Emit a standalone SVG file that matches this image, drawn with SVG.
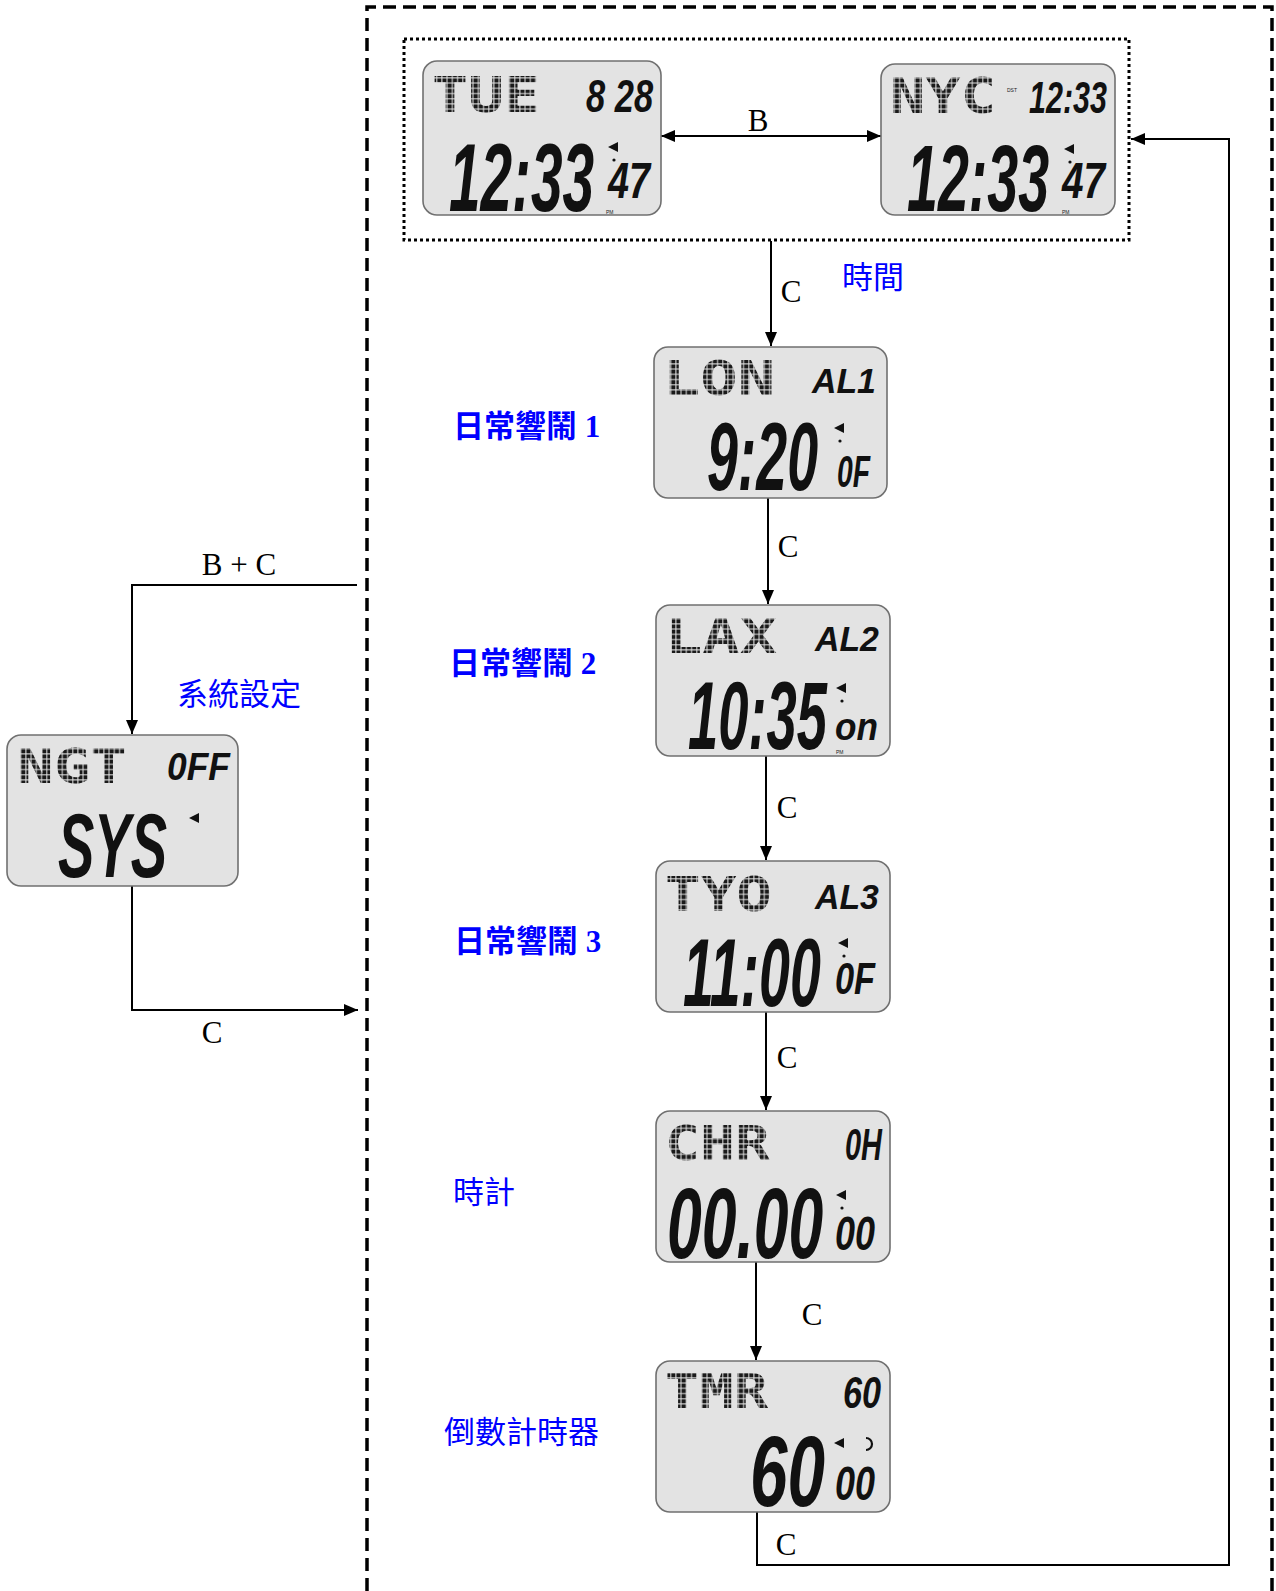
<svg xmlns="http://www.w3.org/2000/svg" width="1276" height="1591" viewBox="0 0 1276 1591">
<defs>
  <style>
    .lcd { fill: #e3e3e3; stroke: #707070; stroke-width: 1.6; }
    .dm { font-family: "DejaVu Sans Mono", "Liberation Mono", monospace; font-weight: bold; fill: url(#dots); }
    .seg { font-family: "Liberation Sans", "DejaVu Sans", sans-serif; font-weight: bold; font-style: italic; fill: #111; }
    .tiny { font-family: "Liberation Sans", sans-serif; font-size: 5px; fill: #222; }
    .lbl { font-family: "Liberation Serif", "DejaVu Serif", serif; font-size: 31px; fill: #000; text-anchor: middle; }
    .cjk { font-family: "Liberation Serif", "Noto Sans CJK TC", serif; font-size: 31px; fill: #0000ff; }
    .cjkb { font-weight: bold; }
    .edge { fill: none; stroke: #000; stroke-width: 2; }
    .bell { fill: #111; }
  </style>
  <pattern id="dots" width="5.2" height="5.2" patternUnits="userSpaceOnUse">
    <rect x="0.4" y="0.4" width="4.2" height="4.2" fill="#1a1a1a"/>
  </pattern>
  <marker id="ah" viewBox="0 0 14 12" refX="14" refY="6" markerWidth="14" markerHeight="12" markerUnits="userSpaceOnUse" orient="auto-start-reverse">
    <path d="M0,0 L14,6 L0,12 Z" fill="#000"/>
  </marker>
</defs>

<!-- frames -->
<path d="M367,1591 V7 H1272 V1591" fill="none" stroke="#000" stroke-width="3.5" stroke-dasharray="13 7"/>
<rect x="404" y="39" width="725" height="201" fill="none" stroke="#000" stroke-width="3" stroke-dasharray="3 3"/>

<!-- connectors -->
<g id="connectors">
  <line class="edge" x1="661" y1="136" x2="881" y2="136" marker-start="url(#ah)" marker-end="url(#ah)"/>
  <line class="edge" x1="771" y1="241" x2="771" y2="346" marker-end="url(#ah)"/>
  <line class="edge" x1="768" y1="498" x2="768" y2="604" marker-end="url(#ah)"/>
  <line class="edge" x1="766" y1="756" x2="766" y2="860" marker-end="url(#ah)"/>
  <line class="edge" x1="766" y1="1011" x2="766" y2="1110" marker-end="url(#ah)"/>
  <line class="edge" x1="756" y1="1262" x2="756" y2="1360" marker-end="url(#ah)"/>
  <polyline class="edge" points="757,1512 757,1565 1229,1565 1229,139 1131,139" marker-end="url(#ah)"/>
  <polyline class="edge" points="357,585 132,585 132,734" marker-end="url(#ah)"/>
  <polyline class="edge" points="132,886 132,1010 358,1010" marker-end="url(#ah)"/>
  <text class="lbl" x="758" y="131">B</text>
  <text class="lbl" x="791" y="302">C</text>
  <text class="lbl" x="788" y="557">C</text>
  <text class="lbl" x="787" y="818">C</text>
  <text class="lbl" x="787" y="1068">C</text>
  <text class="lbl" x="812" y="1325">C</text>
  <text class="lbl" x="786" y="1555" font-size="29">C</text>
  <text class="lbl" x="239" y="575">B + C</text>
  <text class="lbl" x="212" y="1043">C</text>
</g>

<!-- labels -->
<text class="cjk" x="842" y="288">時間</text>
<text class="cjk cjkb" x="453" y="437">日常響鬧 1</text>
<text class="cjk cjkb" x="449" y="674">日常響鬧 2</text>
<text class="cjk cjkb" x="454" y="952">日常響鬧 3</text>
<text class="cjk" x="453" y="1203" font-size="32">時計</text>
<text class="cjk" x="444" y="1443" font-size="32.5">倒數計時器</text>
<text class="cjk" x="177" y="705" font-size="32">系統設定</text>

<!-- nodes -->
<g id="node-tue">
  <rect class="lcd" x="423" y="61" width="238" height="154" rx="14"/>
  <text class="dm" x="432" y="112" font-size="50" textLength="108" lengthAdjust="spacingAndGlyphs">TUE</text>
  <text class="seg" font-size="46" transform="translate(586,112) scale(0.75,1)">8 28</text>
  <text class="seg" font-size="96" transform="translate(449,211) scale(0.591,1)">12:33</text>
  <path class="bell" d="M608,147 L618,142 L618,152 Z"/>
  <circle cx="614" cy="160" r="1.6" fill="#111"/>
  <text class="seg" font-size="44" transform="translate(608,198) scale(0.86,1.12)">47</text>
  <text class="tiny" x="606" y="214">PM</text>
</g>

<g id="node-nyc">
  <rect class="lcd" x="881" y="64" width="234" height="151" rx="14"/>
  <text class="dm" x="890" y="113" font-size="50" textLength="106" lengthAdjust="spacingAndGlyphs">NYC</text>
  <text class="tiny" x="1007" y="92">DST</text>
  <text class="seg" font-size="44" transform="translate(1029,113) scale(0.693,1)">12:33</text>
  <text class="seg" font-size="95" transform="translate(907,211) scale(0.585,1)">12:33</text>
  <path class="bell" d="M1064,149 L1074,144 L1074,154 Z"/>
  <circle cx="1070" cy="162" r="1.6" fill="#111"/>
  <text class="seg" font-size="44" transform="translate(1062,198) scale(0.88,1.12)">47</text>
  <text class="tiny" x="1062" y="214">PM</text>
</g>

<g id="node-lon">
  <rect class="lcd" x="654" y="347" width="233" height="151" rx="14"/>
  <text class="dm" x="663" y="395" font-size="48" textLength="112" lengthAdjust="spacingAndGlyphs">LON</text>
  <text class="seg" font-size="36" transform="translate(812,393) scale(0.94,1)">AL1</text>
  <text class="seg" font-size="96" transform="translate(707,490) scale(0.578,1)">9:20</text>
  <path class="bell" d="M834,428 L844,423 L844,433 Z"/>
  <circle cx="840" cy="441" r="1.6" fill="#111"/>
  <text class="seg" font-size="44" transform="translate(837,487) scale(0.643,1)">0F</text>
</g>

<g id="node-lax">
  <rect class="lcd" x="656" y="605" width="234" height="151" rx="14"/>
  <text class="dm" x="665" y="653" font-size="48" textLength="112" lengthAdjust="spacingAndGlyphs">LAX</text>
  <text class="seg" font-size="36" transform="translate(815,651) scale(0.94,1)">AL2</text>
  <text class="seg" font-size="96" transform="translate(688,749) scale(0.566,1)">10:35</text>
  <path class="bell" d="M836,688 L846,683 L846,693 Z"/>
  <circle cx="842" cy="701" r="1.6" fill="#111"/>
  <text class="seg" font-size="38" transform="translate(835,740) scale(0.926,1)">on</text>
  <text class="tiny" x="836" y="754">PM</text>
</g>

<g id="node-tyo">
  <rect class="lcd" x="656" y="861" width="234" height="151" rx="14"/>
  <text class="dm" x="665" y="911" font-size="48" textLength="107" lengthAdjust="spacingAndGlyphs">TYO</text>
  <text class="seg" font-size="36" transform="translate(815,909) scale(0.94,1)">AL3</text>
  <text class="seg" font-size="96" transform="translate(683,1006) scale(0.578,1)">11:00</text>
  <path class="bell" d="M838,943 L848,938 L848,948 Z"/>
  <circle cx="844" cy="956" r="1.6" fill="#111"/>
  <text class="seg" font-size="44" transform="translate(835,994) scale(0.78,1)">0F</text>
</g>

<g id="node-chr">
  <rect class="lcd" x="656" y="1111" width="234" height="151" rx="14"/>
  <text class="dm" x="665" y="1160" font-size="48" textLength="105" lengthAdjust="spacingAndGlyphs">CHR</text>
  <text class="seg" font-size="44" transform="translate(845,1160) scale(0.658,1)">0H</text>
  <text class="seg" font-size="100" transform="translate(667,1258) scale(0.624,1)">00.00</text>
  <path class="bell" d="M836,1195 L846,1190 L846,1200 Z"/>
  <circle cx="842" cy="1208" r="1.6" fill="#111"/>
  <text class="seg" font-size="48" transform="translate(835,1250) scale(0.749,1)">00</text>
</g>

<g id="node-tmr">
  <rect class="lcd" x="656" y="1361" width="234" height="151" rx="14"/>
  <text class="dm" x="665" y="1408" font-size="48" textLength="103" lengthAdjust="spacingAndGlyphs">TMR</text>
  <text class="seg" font-size="44" transform="translate(843,1408) scale(0.777,1)">60</text>
  <text class="seg" font-size="100" transform="translate(750,1506) scale(0.674,1)">60</text>
  <path class="bell" d="M834,1443 L844,1438 L844,1448 Z"/>
  <path d="M866,1438 A5,5 0 1 1 866,1450" fill="none" stroke="#111" stroke-width="2.2"/>
  <text class="seg" font-size="48" transform="translate(835,1500) scale(0.749,1)">00</text>
</g>

<g id="node-ngt">
  <rect class="lcd" x="7" y="735" width="231" height="151" rx="14"/>
  <text class="dm" x="17" y="783" font-size="48" textLength="110" lengthAdjust="spacingAndGlyphs">NGT</text>
  <text class="seg" font-size="38" transform="translate(167,780) scale(0.932,1)">0FF</text>
  <text class="seg" font-size="90" transform="translate(58,877) scale(0.605,1)">SYS</text>
  <path class="bell" d="M189,818 L199,813 L199,823 Z"/>
</g>
</svg>
